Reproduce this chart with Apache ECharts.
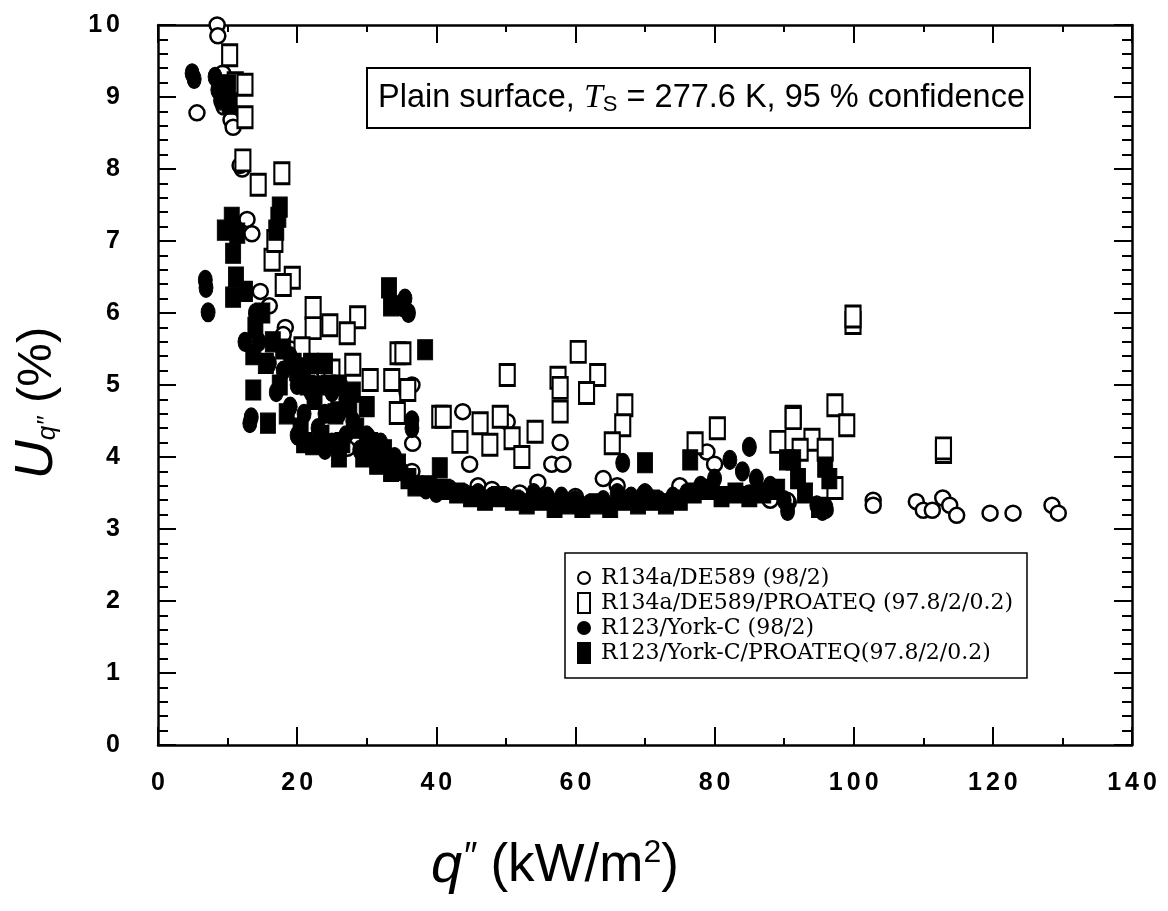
<!DOCTYPE html>
<html><head><meta charset="utf-8">
<script src="https://cdn.jsdelivr.net/npm/echarts@6/dist/echarts.min.js"></script>
<style>html,body{margin:0;padding:0;background:#fff}#c{width:1168px;height:911px}</style>
</head><body><div id="c"></div>
<script>
// ---- data (q'' in kW/m2, U in %) ----
var seriesNames = ['R134a/DE589 (98/2)', 'R134a/DE589/PROATEQ (97.8/2/0.2)', 'R123/York-C (98/2)', 'R123/York-C/PROATEQ(97.8/2/0.2)'];
var xTicks = [0, 20, 40, 60, 80, 100, 120, 140];
var yTicks = [0, 1, 2, 3, 4, 5, 6, 7, 8, 9, 10];

var r134aDE589 = [
 [8.5,10.0],[8.6,9.85],[5.6,8.78],[9.3,9.33],[9.5,8.86],[10.5,8.68],[10.8,8.58],[10.3,9.1],
 [12.1,8.0],[11.8,8.05],[12.8,7.3],[13.5,7.1],[14.7,6.3],[16,6.1],[18.3,5.8],[18.0,5.7],
 [19,5.5],[22,5.1],[24,5.0],[27.2,4.12],[30,4.3],[36.6,4.19],[36.5,3.8],[36.5,5.0],[35.8,4.9],
 [43.8,4.63],[44.8,3.9],[50.2,4.49],[54.6,3.65],[56.6,3.9],[57.8,4.2],[58.2,3.9],[64,3.7],[66,3.6],
 [78.9,4.07],[80,3.9],[90.6,3.37],[90.4,3.4],[95.9,3.26],[102.8,3.4],[102.8,3.33],[109,3.38],
 [110,3.26],[111.3,3.26],[112.8,3.43],[113.8,3.33],[114.8,3.19],[119.6,3.22],[122.9,3.22],
 [128.5,3.33],[129.4,3.22],[46,3.6],[48,3.55],[52,3.5],[60,3.45],[70,3.5],[75,3.6],[85,3.5],[88,3.4]
];
var r134aDE589Pro = [
 [10.3,9.58],[11.1,9.19],[12.5,9.17],[12.5,8.72],[12.2,8.12],[17.8,7.94],[14.4,7.78],[19.3,6.49],
 [18.0,6.39],[16.4,6.74],[16.8,7.0],[22.3,6.07],[22.3,5.79],[24.7,5.83],[28.7,5.94],[20.7,5.51],
 [28.0,5.28],[30.5,5.07],[34.5,5.44],[33.6,5.07],[35.9,4.93],[34.4,4.61],[40.5,4.56],[35.2,5.44],
 [27.2,5.72],[25,5.2],[26,4.9],[60.4,5.46],[50.2,5.14],[57.5,5.1],[57.8,4.96],[63.2,5.14],[61.6,4.89],
 [57.8,4.63],[67.1,4.72],[66.8,4.44],[65.3,4.19],[46.3,4.47],[43.4,4.21],[47.7,4.17],[49.2,4.56],
 [50.9,4.26],[52.3,4.0],[54.2,4.35],[41,4.56],[80.4,4.4],[77.2,4.19],[89.1,4.21],[91.3,4.56],
 [99.9,5.86],[99.9,5.95],[97.3,4.72],[99,4.44],[91.3,4.54],[94,4.24],[95.9,4.1],[97.3,3.57],
 [112.9,4.07],[112.9,4.12],[92.3,4.1]
];
var r123York = [
 [4.9,9.33],[5.2,9.25],[8.2,9.28],[8.6,9.1],[9.0,8.95],[6.8,6.46],[6.9,6.35],[7.2,6.01],
 [13.2,4.47],[13.4,4.55],[14.5,5.6],[16,5.3],[17,4.9],[18,5.2],[19,4.7],[20,5.0],[21,4.6],[22,4.9],
 [23,4.4],[24,4.6],[25,4.2],[26,4.6],[27,4.3],[28,4.5],[29,4.1],[30,4.3],[31,4.0],[32,4.2],[33,3.9],
 [34,4.0],[35,3.8],[35.1,6.08],[35.5,6.2],[36.0,6.0],[36.5,4.51],[36.5,4.4],[37.5,3.6],[38.5,3.55],
 [40,3.5],[42,3.55],[44,3.5],[46,3.5],[48,3.45],[50,3.45],[52,3.4],[54,3.5],[56,3.45],[58,3.45],
 [60,3.4],[62,3.35],[64,3.4],[66.8,3.92],[66,3.5],[68,3.45],[70,3.5],[72,3.4],[74,3.45],[76,3.5],
 [78,3.6],[80,3.7],[82.2,3.96],[84,3.8],[85,4.14],[86,3.7],[88,3.6],[90,3.4],[90.5,3.25],[94.7,3.33],
 [95.5,3.25],[96,3.3],[12.5,5.6],[14,6.0],
 [19,5.4],[21,5.2],[23,5.0],[25,4.9],[20,4.3],[24,4.1],[27,4.8]
];
var r123YorkPro = [
 [9.5,9.0],[10.1,9.17],[10.3,8.9],[9.6,7.15],[10.6,7.33],[11.4,7.11],[10.8,6.83],[10.8,6.22],
 [11.2,6.5],[12.5,6.3],[17.5,7.47],[17.3,7.33],[17.0,7.15],[13.7,5.42],[13.7,4.93],[15.8,4.47],
 [14,5.8],[15,6.0],[15.5,5.3],[16.5,5.6],[17.5,5.0],[18.5,4.6],[19.5,5.3],[20.5,4.4],[21.5,5.0],
 [22.3,4.17],[22.5,4.8],[23.5,4.3],[24.5,5.0],[25.5,4.6],[26.5,4.2],[27.5,4.7],[28.5,4.4],[29.5,4.0],
 [30.5,4.2],[31.5,3.9],[32.5,4.1],[33.5,3.8],[34.5,3.9],[36,3.7],[37,3.6],[33.2,6.35],[33.5,6.1],
 [38.4,5.49],[39,3.6],[40.5,3.85],[41,3.55],[43,3.5],[45,3.45],[47,3.4],[49,3.45],[51,3.4],[53,3.35],
 [55,3.4],[57,3.3],[59,3.35],[61,3.3],[63,3.35],[65,3.3],[67,3.4],[69,3.35],[70,3.92],[71,3.4],
 [73,3.35],[75,3.4],[76.5,3.96],[77,3.5],[79,3.55],[81,3.45],[83,3.5],[85,3.45],[87,3.5],[89,3.55],
 [90.4,3.96],[91.3,3.96],[92,3.7],[93,3.5],[95,3.3],[95.9,3.86],[96.5,3.7],
 [18,5.5],[20,5.2],[22,5.3],[24,5.3],[26,5.0],[28,4.9],[30,4.7],[21,4.2],[26,4.0]
];

var chart = echarts.init(document.getElementById('c'), null, {renderer: 'canvas'});
function spaced(v) {
  return String(v).split('').map(function (c) { return '{d|' + c + '}'; }).join('');
}
var lbl = {formatter: spaced, rich: {d: {fontFamily: 'Liberation Sans', fontWeight: 'bold', fontSize: 25, color: '#000', padding: [0, 2, 0, 2]}}};
function axisCommon(extra) {
  return Object.assign({
    axisLine: {show: true, onZero: false, lineStyle: {color: '#000', width: 2.5}},
    axisTick: {show: true, inside: true, length: 18, lineStyle: {color: '#000', width: 2}},
    splitLine: {show: false}
  }, extra);
}
var open = {color: '#fff', borderColor: '#000', borderWidth: 2.5, opacity: 1};
var fill = {color: '#000', borderColor: '#000', borderWidth: 1, opacity: 1};

chart.setOption({
  animation: false,
  backgroundColor: '#fff',
  grid: {left: 158, right: 36, top: 25, bottom: 166},
  xAxis: [
    axisCommon({type: 'value', min: xTicks[0], max: xTicks[xTicks.length-1], interval: 20,
      minorTick: {show: true, splitNumber: 2, length: 7, lineStyle: {color: '#000', width: 2}},
      axisLabel: Object.assign({margin: 26}, lbl),
      name: '{q|q}{p|″}{n| (kW/m}{sup|2}{n|)}', nameLocation: 'middle', nameGap: 92,
      nameTextStyle: {padding: [0, 180, 0, 0], rich: {
        q: {fontFamily: 'Liberation Sans', fontStyle: 'italic', fontSize: 56, color: '#000'},
        p: {fontFamily: 'Liberation Sans', fontStyle: 'italic', fontSize: 38, color: '#000', padding: [0, 0, 16, 0]},
        n: {fontFamily: 'Liberation Sans', fontSize: 53, color: '#000'},
        sup: {fontFamily: 'Liberation Sans', fontSize: 32, color: '#000', padding: [0, 0, 26, 0]}
      }}}),
    axisCommon({type: 'value', position: 'top', min: 0, max: 140, interval: 20,
      minorTick: {show: true, splitNumber: 2, length: 7, lineStyle: {color: '#000', width: 2}},
      axisLabel: {show: false}})
  ],
  yAxis: [
    axisCommon({type: 'value', min: yTicks[0], max: yTicks[yTicks.length-1], interval: 1,
      minorTick: {show: true, splitNumber: 5, length: 10, lineStyle: {color: '#000', width: 2}},
      axisLabel: Object.assign({margin: 36}, lbl),
      name: '{u|U}{s|q″}{n| (%)}', nameLocation: 'middle', nameGap: 94,
      nameTextStyle: {padding: [0, 36, 0, 0], rich: {
        u: {fontFamily: 'Liberation Sans', fontStyle: 'italic', fontSize: 54, color: '#000'},
        s: {fontFamily: 'Liberation Sans', fontStyle: 'italic', fontSize: 26, color: '#000', padding: [22, 0, 0, 0]},
        n: {fontFamily: 'Liberation Sans', fontSize: 49, color: '#000'}
      }}}),
    axisCommon({type: 'value', position: 'right', min: 0, max: 10, interval: 1,
      minorTick: {show: true, splitNumber: 5, length: 10, lineStyle: {color: '#000', width: 2}},
      axisLabel: {show: false}})
  ],
  legend: {
    orient: 'vertical', left: 565, top: 553,
    padding: [14, 14, 14, 12], itemGap: 3, itemWidth: 12, itemHeight: 20,
    backgroundColor: '#fff', borderColor: '#000', borderWidth: 1.5,
    textStyle: {fontFamily: 'DejaVu Serif', fontSize: 22, color: '#000', padding: [0, 0, 0, 6]},
    data: seriesNames
  },
  graphic: [
    {type: 'rect', shape: {x: 367, y: 68, width: 663, height: 60},
     style: {fill: '#fff', stroke: '#000', lineWidth: 2}, z: 100},
    {type: 'text', x: 378, y: 98, z: 101,
     style: {text: '{a|Plain surface, }{t|T}{s|S}{a| = 277.6 K, 95 % confidence}',
       verticalAlign: 'middle',
       rich: {
         a: {fontFamily: 'Liberation Sans', fontSize: 32.5, fill: '#000'},
         t: {fontFamily: 'Liberation Serif', fontStyle: 'italic', fontSize: 34, fill: '#000'},
         s: {fontFamily: 'Liberation Sans', fontSize: 22, fill: '#000', padding: [14, 0, 0, 0]}
       }}}
  ],
  series: [
    {name: seriesNames[0], type: 'scatter', data: r134aDE589, symbol: 'circle', symbolSize: [15, 15], itemStyle: open},
    {name: seriesNames[1], type: 'scatter', data: r134aDE589Pro, symbol: 'rect', symbolSize: [15, 21], itemStyle: open},
    {name: seriesNames[2], type: 'scatter', data: r123York, symbol: 'circle', symbolSize: [14, 19], itemStyle: fill},
    {name: seriesNames[3], type: 'scatter', data: r123YorkPro, symbol: 'rect', symbolSize: [15, 20], itemStyle: fill}
  ]
});
</script></body></html>
